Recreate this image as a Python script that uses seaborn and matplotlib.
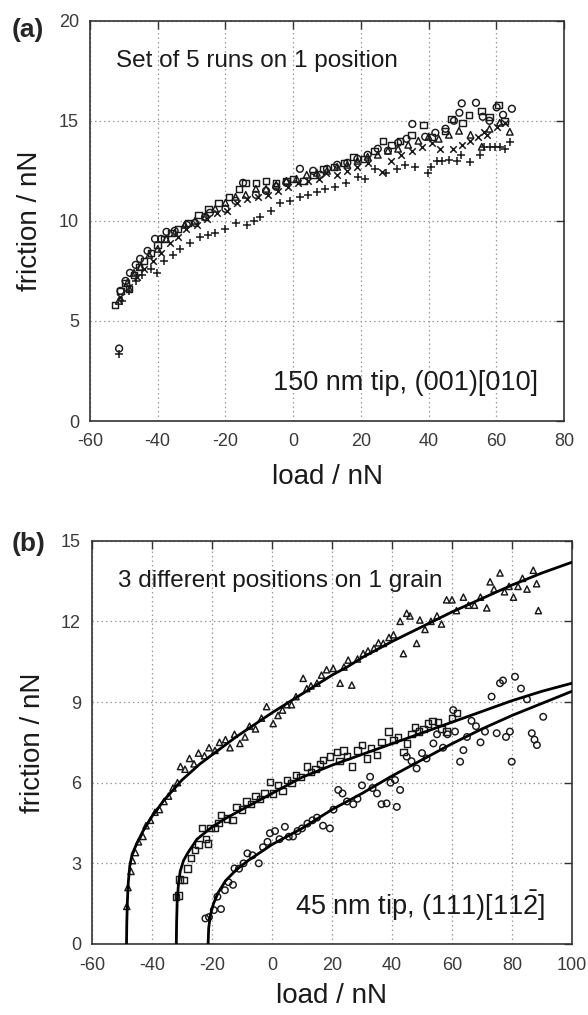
import matplotlib
matplotlib.use("Agg")
import matplotlib.pyplot as plt
import seaborn as sns
import pandas as pd

# ---------------- panel (a): set of 5 runs on 1 position ----------------
a_circ_x = [-51.4, -51.0, -49.5, -48.2, -46.5, -45.2, -43.0, -40.8, -39.0, -37.4, -35.0, -31.4, -29.0,
            -26.0, -24.6, -20.0, -17.0, -14.8, -11.0, -8.0, -5.0, -2.0, 2.0, 5.9, 8.0, 10.0, 13.0, 16.0,
            19.0, 22.0, 25.0, 28.0, 31.0, 33.5, 35.2, 39.0, 42.0, 45.0, 47.5, 49.1, 49.8, 54.0, 56.0,
            58.0, 60.1, 62.0, 64.6]
a_circ_y = [3.62, 6.5, 7.0, 7.4, 7.8, 8.1, 8.5, 9.1, 9.1, 9.45, 9.5, 9.8, 9.9, 10.2, 10.4, 10.6, 11.0,
            11.9, 11.3, 11.5, 11.7, 11.9, 12.6, 12.5, 12.3, 12.6, 12.8, 12.9, 13.1, 13.3, 13.6, 13.5,
            13.9, 14.1, 14.84, 14.2, 14.4, 14.6, 15.0, 15.4, 15.87, 15.9, 15.2, 15.0, 15.67, 15.3, 15.6]

a_sq_x = [-52.6, -51.0, -49.5, -48.5, -47.0, -45.5, -44.0, -42.0, -40.0, -38.0, -36.0, -34.0, -31.0,
          -28.0, -25.0, -22.0, -19.0, -16.0, -14.0, -11.0, -8.0, -5.0, -2.0, 0.0, 3.0, 6.0, 9.0, 12.0,
          15.0, 17.8, 21.0, 24.0, 26.6, 29.0, 31.6, 35.0, 38.5, 41.0, 44.8, 46.8, 50.0, 52.0, 55.7,
          58.0, 60.6, 62.5]
a_sq_y = [5.8, 6.5, 6.9, 6.6, 7.3, 7.7, 8.0, 8.4, 8.8, 9.1, 9.4, 9.6, 9.9, 10.3, 10.6, 10.9, 11.2, 11.6,
          11.9, 11.9, 12.0, 11.9, 12.0, 12.1, 12.0, 12.3, 12.6, 12.7, 12.9, 13.2, 13.1, 13.5, 14.0,
          13.8, 14.0, 14.3, 14.8, 14.2, 14.5, 15.1, 14.9, 15.3, 15.5, 15.2, 15.8, 15.0]

a_tri_x = [-51.5, -49.0, -47.0, -45.0, -42.5, -40.0, -37.5, -35.0, -32.0, -29.0, -26.0, -23.0, -20.0,
           -17.0, -14.0, -11.0, -8.0, -5.0, -2.0, 1.0, 4.0, 7.0, 10.0, 13.0, 16.0, 19.0, 22.0, 25.0,
           28.0, 31.0, 34.0, 37.0, 40.0, 43.0, 46.0, 49.0, 52.4, 55.7, 58.0, 61.0, 64.0]
a_tri_y = [6.0, 6.9, 7.4, 7.7, 8.3, 8.6, 9.1, 9.4, 9.8, 10.0, 10.2, 10.6, 10.9, 11.2, 11.3, 11.6, 11.6,
           11.8, 12.0, 12.1, 12.3, 12.4, 12.5, 12.7, 12.8, 13.0, 13.2, 13.3, 13.5, 13.6, 13.8, 14.0,
           14.2, 14.1, 14.3, 14.5, 14.3, 13.7, 14.6, 14.9, 14.45]

a_x_x = [-51.0, -48.5, -46.0, -44.0, -41.5, -39.0, -36.5, -34.0, -31.5, -28.5, -25.5, -22.5, -19.5,
         -16.5, -13.5, -10.5, -7.5, -4.5, -1.5, 1.5, 4.5, 7.5, 9.8, 13.0, 16.0, 19.0, 22.0, 26.1, 29.0,
         32.0, 35.0, 38.0, 41.0, 43.4, 47.3, 50.0, 52.2, 54.5, 56.3, 57.2, 60.1, 62.5]
a_x_y = [6.2, 6.7, 7.2, 7.6, 8.0, 8.4, 8.9, 9.2, 9.6, 9.8, 10.1, 10.4, 10.5, 10.9, 11.1, 11.2, 11.3, 11.5,
         11.7, 11.9, 12.0, 12.1, 12.4, 12.3, 12.5, 12.7, 12.9, 12.45, 13.0, 13.3, 13.5, 13.7, 13.9,
         13.6, 13.6, 13.8, 14.0, 14.2, 14.45, 14.3, 14.7, 14.9]

a_plus_x = [-51.4, -50.5, -48.5, -46.5, -44.5, -42.0, -40.3, -38.0, -35.5, -33.4, -30.5, -27.5, -25.0,
            -23.1, -20.0, -17.0, -13.7, -11.5, -9.8, -6.5, -3.9, -1.0, 2.0, 4.5, 6.95, 9.5, 12.5, 15.5,
            19.2, 21.2, 24.2, 27.5, 30.6, 33.0, 36.0, 39.7, 40.7, 42.4, 44.1, 46.0, 48.3, 49.6, 52.2,
            55.2, 56.5, 58.0, 59.5, 61.0, 62.5, 64.0]
a_plus_y = [3.33, 6.0, 6.5, 7.0, 7.3, 7.6, 7.4, 8.0, 8.3, 8.6, 8.9, 9.2, 9.3, 9.4, 9.6, 9.9, 9.8, 10.0,
            10.2, 10.5, 10.9, 11.0, 11.2, 11.3, 11.45, 11.6, 11.7, 11.9, 12.2, 12.1, 12.6, 12.4, 12.6,
            12.8, 12.7, 12.37, 12.7, 13.0, 13.0, 13.05, 13.0, 13.3, 12.95, 13.3, 13.7, 13.7, 13.7, 13.7,
            13.6, 13.95]

# ---------------- panel (b): 3 positions on 1 grain ----------------
b_tri_x = [-48.4, -48.0, -47.0, -46.5, -45.5, -44.5, -43.0, -42.0, -40.5, -39.0, -37.5, -36.0, -34.5,
           -33.0, -31.5, -30.5, -29.0, -27.5, -26.0, -24.5, -22.5, -21.0, -19.0, -17.5, -15.5, -14.0,
           -12.5, -10.7, -9.0, -7.5, -5.5, -3.5, -1.8, 0.4, 2.0, 3.5, 5.0, 6.5, 8.0, 10.4, 11.6, 13.0,
           15.0, 16.5, 18.2, 20.4, 22.7, 24.0, 25.4, 26.6, 28.5, 30.4, 32.0, 34.0, 35.5, 37.1, 39.0,
           40.5, 42.7, 43.8, 44.9, 46.0, 48.2, 49.3, 51.0, 53.0, 55.0, 56.5, 58.2, 60.0, 61.5, 63.8,
           65.5, 67.5, 69.5, 71.6, 72.7, 74.0, 76.0, 77.5, 79.0, 80.5, 82.0, 83.5, 85.0, 87.1, 88.2, 88.8]
b_tri_y = [1.4, 2.1, 2.7, 3.1, 3.4, 3.8, 4.0, 4.4, 4.6, 4.9, 5.0, 5.3, 5.5, 5.8, 6.0, 6.6, 6.5, 6.9, 6.7,
           7.1, 7.0, 7.3, 7.2, 7.5, 7.6, 7.3, 7.8, 7.46, 7.7, 8.1, 8.0, 8.4, 8.83, 8.2, 8.5, 8.7, 8.9,
           8.9, 9.2, 9.88, 9.5, 9.6, 9.7, 10.0, 10.2, 10.25, 9.7, 10.3, 10.56, 9.63, 10.6, 10.8, 10.9,
           11.0, 11.2, 11.18, 11.4, 11.5, 12.0, 10.8, 12.3, 12.2, 11.18, 12.05, 11.7, 12.0, 12.2, 11.9,
           12.8, 12.8, 12.4, 12.9, 12.6, 12.6, 12.9, 12.5, 13.47, 13.2, 13.8, 13.1, 13.3, 12.9, 13.3,
           13.6, 13.2, 13.9, 13.4, 12.4]

b_sq_x = [-32.0, -31.2, -30.8, -29.4, -28.2, -27.0, -25.7, -24.5, -23.4, -22.0, -21.3, -20.5, -19.0,
          -17.8, -16.9, -15.1, -13.2, -11.8, -10.0, -8.5, -7.0, -5.5, -4.0, -2.5, -0.7, 0.4, 2.0, 3.5,
          5.0, 6.5, 8.0, 9.5, 11.6, 13.0, 14.5, 16.0, 17.1, 19.3, 21.6, 22.5, 23.8, 25.0, 26.6, 28.5,
          30.0, 31.6, 33.0, 34.9, 36.5, 38.8, 40.5, 42.0, 43.8, 44.9, 46.5, 47.7, 49.0, 50.5, 52.1,
          53.5, 55.4, 56.5, 58.2, 60.0, 61.6]
b_sq_y = [1.76, 1.8, 2.4, 2.38, 2.81, 3.2, 3.5, 3.7, 4.3, 3.9, 3.74, 4.3, 4.3, 4.5, 4.8, 4.67, 4.6, 5.1,
          5.0, 5.3, 5.2, 5.5, 5.4, 5.6, 6.03, 5.6, 5.9, 5.7, 6.1, 6.0, 6.3, 6.2, 6.6, 6.4, 6.5, 6.7,
          6.84, 6.97, 7.15, 6.8, 7.2, 7.0, 6.6, 7.2, 7.4, 6.9, 7.3, 7.03, 7.5, 7.9, 7.6, 7.7, 7.15,
          7.46, 7.8, 8.08, 7.9, 8.0, 8.2, 8.3, 8.27, 8.0, 7.9, 8.4, 8.58]

b_circ_x = [-22.2, -21.0, -19.4, -18.2, -17.0, -15.7, -14.5, -13.0, -12.5, -11.0, -9.5, -8.2, -6.5,
            -4.4, -3.0, -1.5, -0.7, 1.0, 2.5, 4.3, 5.6, 7.0, 8.5, 10.0, 11.8, 13.5, 15.0, 17.0, 19.3,
            20.5, 22.1, 23.5, 25.0, 27.1, 28.5, 30.0, 32.7, 33.5, 35.0, 36.5, 38.2, 39.5, 41.0, 41.6,
            42.7, 44.9, 46.5, 48.2, 50.0, 51.5, 53.8, 55.0, 57.0, 58.5, 60.4, 61.0, 62.7, 63.8, 65.0,
            66.5, 68.0, 69.5, 71.0, 73.2, 74.9, 76.0, 77.0, 78.0, 79.3, 79.9, 81.0, 83.0, 85.0, 86.6,
            87.5, 88.3, 90.4]
b_circ_y = [0.95, 1.0, 1.26, 1.76, 1.3, 2.0, 2.3, 2.2, 2.81, 2.8, 3.0, 3.37, 3.3, 3.0, 3.6, 3.8, 4.12,
            4.2, 3.9, 4.36, 3.99, 4.0, 4.2, 4.3, 4.48, 4.6, 4.7, 4.4, 4.3, 5.0, 5.73, 5.6, 5.3, 5.2,
            5.4, 5.9, 6.22, 5.8, 5.6, 5.2, 5.23, 6.0, 6.1, 5.1, 5.73, 6.97, 6.8, 6.53, 7.1, 6.9, 7.46,
            7.8, 7.3, 7.8, 8.7, 7.9, 6.78, 7.21, 7.7, 8.3, 8.1, 7.5, 7.9, 9.2, 7.84, 9.7, 9.8, 7.7,
            7.9, 6.78, 9.94, 9.5, 9.1, 7.84, 7.6, 7.4, 8.45]

# fit curves
fit1_x = [-48.5, -48.4, -48.2, -47.9, -47.4, -46.6, -45.0, -43.0, -40.0, -36.0, -30.0, -24.0, -18.0,
          -12.0, -6.0, 0.0, 5.0, 10.0, 15.0, 20.0, 25.0, 30.0, 40.0, 50.0, 60.0, 70.0, 80.0, 90.0, 100.0]
fit1_y = [0.0, 0.8, 1.6, 2.3, 2.9, 3.35, 3.75, 4.2, 4.75, 5.35, 6.1, 6.7, 7.2, 7.7, 8.15, 8.6, 8.95,
          9.3, 9.65, 10.0, 10.3, 10.65, 11.25, 11.8, 12.35, 12.85, 13.35, 13.8, 14.2]
fit2_x = [-31.9, -31.8, -31.6, -31.2, -30.6, -29.5, -28.0, -25.0, -20.0, -15.0, -10.0, -5.0, 0.0, 5.0,
          10.0, 20.0, 30.0, 40.0, 50.0, 60.0, 70.0, 80.0, 90.0, 100.0]
fit2_y = [0.0, 0.8, 1.6, 2.2, 2.7, 3.1, 3.4, 3.9, 4.35, 4.7, 5.0, 5.3, 5.6, 5.9, 6.2, 6.65, 7.05, 7.45,
          7.85, 8.25, 8.65, 9.05, 9.4, 9.7]
fit3_x = [-21.3, -21.1, -20.5, -19.5, -18.0, -15.5, -12.0, -8.0, -4.0, 0.0, 5.0, 10.0, 15.0, 20.0, 30.0,
          40.0, 50.0, 60.0, 70.0, 80.0, 90.0, 100.0]
fit3_y = [0.0, 0.6, 1.1, 1.5, 1.9, 2.35, 2.75, 3.1, 3.4, 3.7, 4.0, 4.3, 4.65, 5.0, 5.6, 6.25, 6.85, 7.45,
          8.0, 8.5, 8.95, 9.4]

# ---------------- style ----------------
sns.set_style("white")
plt.rcParams['font.family'] = ['Liberation Sans', 'DejaVu Sans']
plt.rcParams['mathtext.fontset'] = 'custom'
plt.rcParams['mathtext.rm'] = 'Liberation Sans'
plt.rcParams['mathtext.it'] = 'Liberation Sans:italic'
plt.rcParams['mathtext.bf'] = 'Liberation Sans:bold'
plt.rcParams['axes.unicode_minus'] = False

INK = '#1a1a1a'
AXIS = '#333333'
GRID = '#9a9a9a'

fig = plt.figure(figsize=(5.88, 10.15), dpi=100)
ax_a = fig.add_axes([90 / 588, 1 - 421 / 1015, 474 / 588, 400.3 / 1015])
ax_b = fig.add_axes([92 / 588, 1 - 944 / 1015, 480 / 588, 403.3 / 1015])


def draw_points(ax, xs, ys, marker, size=24):
    df = pd.DataFrame({'load': xs, 'friction': ys})
    if marker in ('x', '+'):
        sns.scatterplot(data=df, x='load', y='friction', marker=marker, s=size,
                        color=INK, linewidth=1.1, ax=ax, zorder=3)
    else:
        sns.scatterplot(data=df, x='load', y='friction', marker=marker, s=size,
                        color='none', edgecolor=INK, linewidth=1.05, ax=ax, zorder=3)


def style_axes(ax, xlim, ylim, xticks, yticks, xpad):
    ax.set_xlim(*xlim)
    ax.set_ylim(*ylim)
    ax.set_xticks(xticks)
    ax.set_yticks(yticks)
    ax.set_axisbelow(True)
    ax.grid(True, linestyle=(0, (1.2, 2.4)), color=GRID, linewidth=0.9)
    for sp in ax.spines.values():
        sp.set_color(AXIS)
        sp.set_linewidth(1.2)
    ax.tick_params(direction='in', top=True, right=True, length=5.5, width=1.0,
                   color=AXIS, labelsize=13, labelcolor='#3a3a3a')
    ax.tick_params(axis='x', pad=9)
    ax.tick_params(axis='y', pad=8)
    ax.set_xlabel('load / nN', fontsize=20, color='#1a1a1a', labelpad=xpad)
    ax.set_ylabel('friction / nN', fontsize=20, color='#1a1a1a', labelpad=11)


# panel (a)
draw_points(ax_a, a_circ_x, a_circ_y, 'o')
draw_points(ax_a, a_sq_x, a_sq_y, 's', 22)
draw_points(ax_a, a_tri_x, a_tri_y, '^', 22)
draw_points(ax_a, a_x_x, a_x_y, 'x', 22)
draw_points(ax_a, a_plus_x, a_plus_y, '+', 30)
style_axes(ax_a, (-60, 80), (0, 20), range(-60, 81, 20), range(0, 21, 5), 10)
ax_a.text(0.055, 0.885, 'Set of 5 runs on 1 position', transform=ax_a.transAxes,
          fontsize=17.5, color='#1a1a1a', va='baseline')
ax_a.text(0.945, 0.077, '150 nm tip, (001)[010]', transform=ax_a.transAxes,
          fontsize=19.5, color='#1a1a1a', va='baseline', ha='right')

# panel (b)
draw_points(ax_b, b_tri_x, b_tri_y, '^', 20)
draw_points(ax_b, b_sq_x, b_sq_y, 's', 20)
draw_points(ax_b, b_circ_x, b_circ_y, 'o', 22)
for fx, fy in [(fit1_x, fit1_y), (fit2_x, fit2_y), (fit3_x, fit3_y)]:
    sns.lineplot(x=fx, y=fy, sort=False, estimator=None, color='black', linewidth=2.0, ax=ax_b, zorder=4)
style_axes(ax_b, (-60, 100), (0, 15), range(-60, 101, 20), range(0, 16, 3), 7)
ax_b.text(0.054, 0.884, '3 different positions on 1 grain', transform=ax_b.transAxes,
          fontsize=17.5, color='#1a1a1a', va='baseline')
ax_b.text(0.945, 0.072, r'45 nm tip, (111)[11$\bar{2}$]', transform=ax_b.transAxes,
          fontsize=19.5, color='#1a1a1a', va='baseline', ha='right')

fig.text(12 / 588, 1 - 37 / 1015, '(a)', fontsize=19, fontweight='bold', va='baseline')
fig.text(12 / 588, 1 - 551 / 1015, '(b)', fontsize=19, fontweight='bold', va='baseline')

fig.savefig('out.png', dpi=100)
